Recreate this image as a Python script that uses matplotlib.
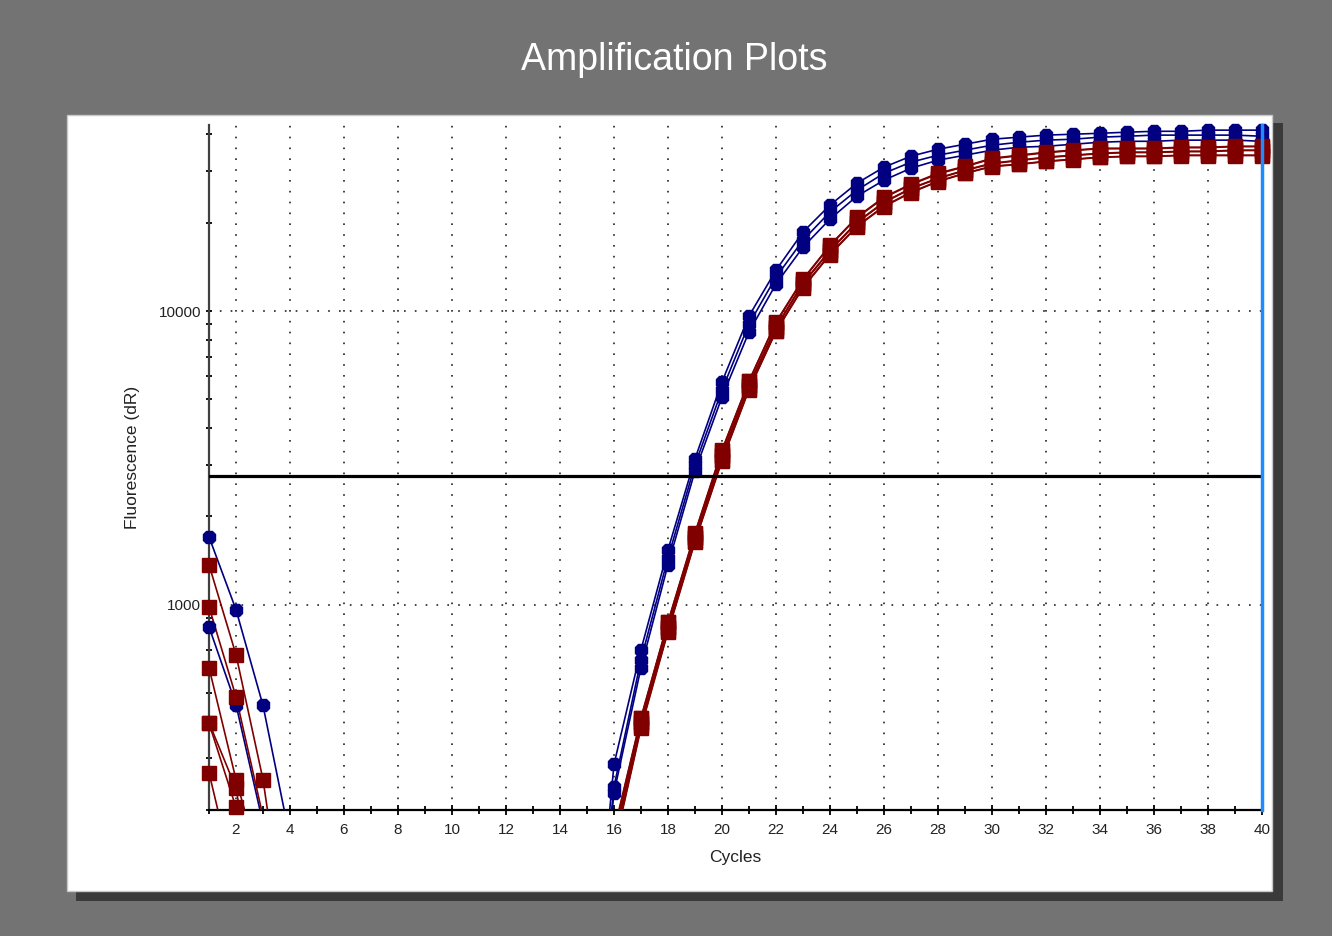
import numpy as np
import matplotlib
matplotlib.use("Agg")
import matplotlib.pyplot as plt
from matplotlib.patches import Rectangle
from matplotlib.ticker import LogLocator, NullFormatter, MultipleLocator

plt.rcParams['font.family'] = ['Liberation Sans', 'DejaVu Sans']

# --- data: fluorescence (dR) per cycle ---
cycles = np.arange(1, 41)

# blue wells (3 replicates)
blue_wells = [
    [1703, 962, 454, 160, 60, 45, 40, 38, 36, 35, 34, 33, 32, 31, 30,
     286, 703, 1539, 3140, 5740, 9620, 13770, 18580, 22950, 27250, 30900, 33670, 35560,
     36980, 38460, 39090, 39720, 40000, 40300, 40640, 40930, 40930, 41300, 41300, 41300],
    [841, 457, 180, 60, 45, 40, 38, 36, 35, 34, 33, 32, 31, 30, 30,
     240, 650, 1445, 2993, 5387, 9036, 13050, 17430, 21750, 25800, 29460, 32130, 33930,
     35300, 36700, 37560, 38190, 38460, 39090, 39370, 39720, 39720, 39720, 39720, 39370],
    [150, 80, 50, 45, 40, 38, 36, 35, 34, 33, 32, 31, 30, 30, 30,
     229, 611, 1369, 2855, 5097, 8490, 12360, 16500, 20570, 24620, 27900, 30650, 32640,
     33930, 35300, 36120, 36390, 36980, 37560, 37840, 37840, 38190, 38190, 38190, 37840],
]

# red wells (6 replicates)
red_wells = [
    [1368, 676, 254, 60, 45, 40, 38, 36, 35, 34, 33, 32, 31, 30, 30,
     170, 413, 875, 1758, 3366, 5785, 9180, 12850, 16750, 20900, 24430, 27060, 29470,
     31120, 33140, 33930, 34750, 35300, 35830, 35830, 35830, 36120, 36120, 36390, 36390],
    [984, 486, 190, 50, 42, 40, 38, 36, 35, 34, 33, 32, 31, 30, 30,
     160, 400, 841, 1703, 3236, 5600, 8840, 12450, 16110, 20100, 23500, 26190, 28340,
     30190, 31860, 32640, 33420, 33930, 34460, 34750, 34750, 35000, 35000, 35300, 35300],
    [611, 254, 120, 45, 40, 38, 36, 35, 34, 33, 32, 31, 30, 30, 30,
     150, 385, 816, 1651, 3113, 5430, 8570, 12070, 15620, 19460, 22770, 25400, 27680,
     29470, 31120, 31620, 32370, 32880, 33420, 33650, 33650, 33930, 33930, 33930, 33930],
    [397, 237, 70, 45, 40, 38, 36, 35, 34, 33, 32, 31, 30, 30, 30,
     168, 410, 870, 1745, 3340, 5760, 9120, 12780, 16680, 20800, 24300, 26950, 29300,
     31000, 33000, 33800, 34600, 35200, 35700, 35700, 35700, 36000, 36000, 36300, 36300],
    [395, 204, 60, 42, 40, 38, 36, 35, 34, 33, 32, 31, 30, 30, 30,
     158, 395, 835, 1690, 3210, 5560, 8780, 12380, 16020, 20000, 23400, 26100, 28250,
     30100, 31750, 32550, 33300, 33850, 34350, 34650, 34650, 34900, 34900, 35200, 35200],
    [268, 110, 50, 42, 40, 38, 36, 35, 34, 33, 32, 31, 30, 30, 30,
     148, 380, 810, 1640, 3090, 5400, 8520, 12000, 15550, 19380, 22680, 25300, 27600,
     29400, 31050, 31550, 32300, 32800, 33350, 33600, 33600, 33850, 33850, 33850, 33850],
]

threshold = 2750
y_min, y_max = 200, 43000

BLUE = '#000080'
RED = '#800000'

fig = plt.figure(figsize=(13.32, 9.36), dpi=100, facecolor='#737373')

# white chart panel with drop shadow (pixel coords -> figure fraction)
W, H = 1332.0, 936.0
shadow = Rectangle((76 / W, 1 - 901 / H), (1283 - 76) / W, (901 - 123) / H,
                   transform=fig.transFigure, facecolor='#3a3a3a', edgecolor='none', zorder=0)
panel = Rectangle((67 / W, 1 - 891 / H), (1272 - 67) / W, (891 - 115) / H,
                  transform=fig.transFigure, facecolor='white', edgecolor='#c8c8c8',
                  linewidth=1.0, zorder=1)
fig.patches.extend([shadow, panel])

fig.text(674 / W, 1 - 60 / H, 'Amplification Plots', color='white', fontsize=27,
         ha='center', va='center')

ax = fig.add_axes([209 / W, 1 - 810 / H, (1262 - 209) / W, (810 - 125) / H])
ax.set_facecolor('none')
ax.set_zorder(2)

# curves: lines clipped to the axes, markers drawn only where inside the y range
for well in blue_wells:
    v = np.array(well, dtype=float)
    ax.plot(cycles, v, color=BLUE, lw=1.2, zorder=3)
    vm = np.where(v >= y_min, v, np.nan)
    ax.plot(cycles, vm, ls='none', marker='8', ms=10, color=BLUE, mec=BLUE,
            clip_on=False, zorder=4)
for well in red_wells:
    v = np.array(well, dtype=float)
    ax.plot(cycles, v, color=RED, lw=1.2, zorder=3)
    vm = np.where(v >= y_min, v, np.nan)
    ax.plot(cycles, vm, ls='none', marker='s', ms=9.5, color=RED, mec=RED,
            clip_on=False, zorder=4)

# threshold and end-cycle marker
ax.axhline(threshold, color='black', lw=2.3, zorder=5)
ax.axvline(40, color='#1e8cff', lw=2.5, zorder=6, clip_on=False)

ax.set_yscale('log')
ax.set_xlim(1, 40)
ax.set_ylim(y_min, y_max)

ax.set_xticks(range(2, 41, 2))
ax.xaxis.set_minor_locator(MultipleLocator(1))
ax.set_yticks([1000, 10000], labels=['1000', '10000'])
ax.yaxis.set_minor_locator(LogLocator(base=10, subs=np.arange(2, 10)))
ax.yaxis.set_minor_formatter(NullFormatter())

ax.grid(which='major', color='#222222', linestyle=(0, (1, 5.5)), linewidth=1.2)

for s in ['top', 'right']:
    ax.spines[s].set_visible(False)
ax.spines['left'].set_color('#404040')
ax.spines['left'].set_linewidth(1.6)
ax.spines['bottom'].set_color('black')
ax.spines['bottom'].set_linewidth(1.6)

ax.tick_params(axis='x', which='major', direction='inout', length=7, width=1.3,
               labelsize=11, labelcolor='#222222', pad=6)
ax.tick_params(axis='x', which='minor', direction='inout', length=5.5, width=1.3)
ax.tick_params(axis='y', which='major', direction='inout', length=5, width=1.3,
               labelsize=11, labelcolor='#222222', pad=3)
ax.tick_params(axis='y', which='minor', direction='inout', length=4, width=1.3)

ax.set_xlabel('Cycles', fontsize=12.5, color='#222222')
ax.xaxis.set_label_coords(0.5, -0.058)
ax.set_ylabel('Fluorescence (dR)', fontsize=12.5, color='#222222')
ax.yaxis.set_label_coords(-0.066, 0.514)

fig.savefig('out.png', dpi=100, facecolor=fig.get_facecolor())
